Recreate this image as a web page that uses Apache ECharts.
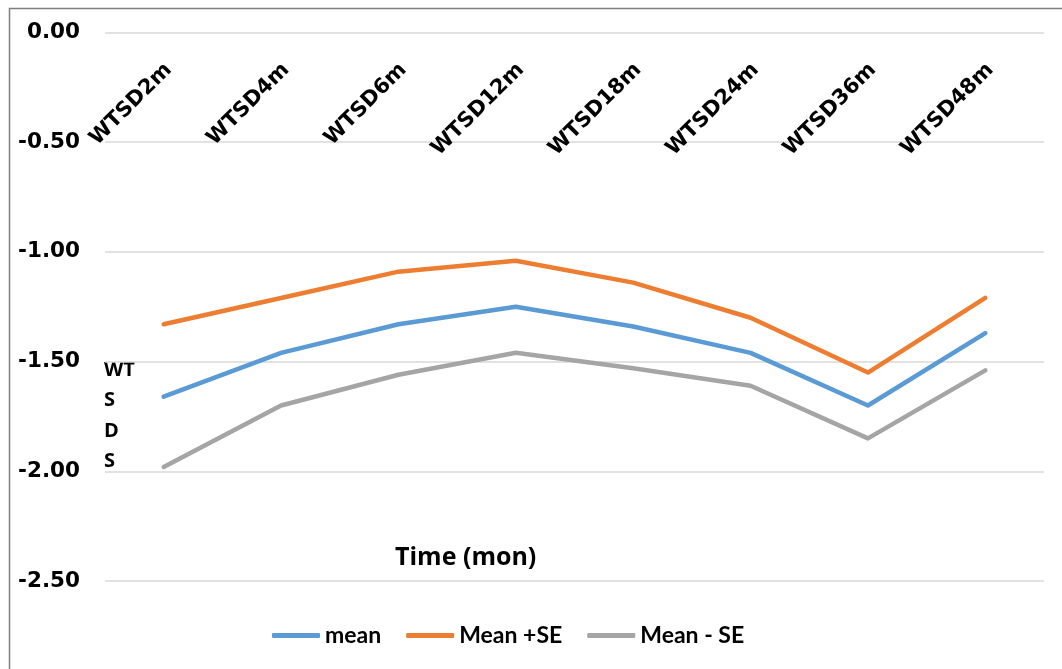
<!DOCTYPE html>
<html>
<head>
<meta charset="utf-8">
<script src="https://cdn.jsdelivr.net/npm/echarts@6/dist/echarts.min.js"></script>
<style>
html,body{margin:0;padding:0;background:#fff;}
#chart{width:1062px;height:669px;}
</style>
</head>
<body>
<div id="chart"></div>
<script>
const categories = ['WTSD2m','WTSD4m','WTSD6m','WTSD12m','WTSD18m','WTSD24m','WTSD36m','WTSD48m'];
const meanValues = [-1.66, -1.46, -1.33, -1.25, -1.34, -1.46, -1.70, -1.37];
const meanPlusSE = [-1.33, -1.21, -1.09, -1.04, -1.14, -1.30, -1.55, -1.21];
const meanMinusSE = [-1.98, -1.70, -1.56, -1.46, -1.53, -1.61, -1.85, -1.54];
const seriesNames = ['mean', 'Mean +SE', 'Mean - SE'];
const colors = ['#5B9BD5', '#ED7D31', '#A5A5A5'];

const chart = echarts.init(document.getElementById('chart'), null, {renderer: 'canvas'});
const AXFONT = 'DejaVu Sans';
const FONT = 'Lato';
const mk = (name, data, color) => ({
  name: name, type: 'line', data: data,
  symbol: 'none', smooth: false,
  lineStyle: {color: color, width: 4.5, cap: 'round', join: 'round'},
  itemStyle: {color: color},
  emphasis: {disabled: true}
});
chart.setOption({
  animation: false,
  backgroundColor: '#fff',
  color: colors,
  grid: {left: 105, right: 18, top: 32.5, bottom: 88, containLabel: false},
  xAxis: {
    type: 'category', data: categories, position: 'top', boundaryGap: true,
    axisLine: {show: false}, axisTick: {show: false},
    axisLabel: {
      inside: true, rotate: 45, margin: 39, interval: 0,
      align: 'right', verticalAlign: 'middle', padding: [0, -7, 0, 0],
      fontFamily: AXFONT, fontWeight: 'bold', fontSize: 21, color: '#000'
    },
    splitLine: {show: false}
  },
  yAxis: {
    type: 'value', min: -2.5, max: 0, interval: 0.5,
    axisLine: {show: false}, axisTick: {show: false},
    axisLabel: {
      margin: 25, formatter: v => v.toFixed(2),
      fontFamily: AXFONT, fontWeight: 'bold', fontSize: 21.5, color: '#000'
    },
    splitLine: {show: true, lineStyle: {color: '#D9D9D9', width: 1.5}}
  },
  legend: {
    left: 272, top: 624, padding: 0, itemWidth: 48, itemHeight: 5, itemGap: 25,
    icon: 'roundRect',
    data: seriesNames,
    textStyle: {fontFamily: FONT, fontWeight: 'bold', fontSize: 23, color: '#000'}
  },
  graphic: [
    {type: 'rect', left: 7, top: 6, shape: {width: 1070, height: 680},
     style: {fill: 'none', stroke: '#7F7F7F', lineWidth: 1.5}, silent: true},
    {type: 'text', left: 104, top: 355,
     style: {text: 'WT\nS\nD\nS', fontFamily: 'Open Sans', fontWeight: 'bold', fontSize: 20, lineHeight: 30.5, fill: '#000'}},
    {type: 'text', left: 395, top: 545,
     style: {text: 'Time (mon)', fontFamily: 'Open Sans', fontWeight: 'bold', fontSize: 25, fill: '#000'}}
  ],
  series: [
    mk(seriesNames[0], meanValues, colors[0]),
    mk(seriesNames[1], meanPlusSE, colors[1]),
    mk(seriesNames[2], meanMinusSE, colors[2])
  ]
});
</script>
</body>
</html>
